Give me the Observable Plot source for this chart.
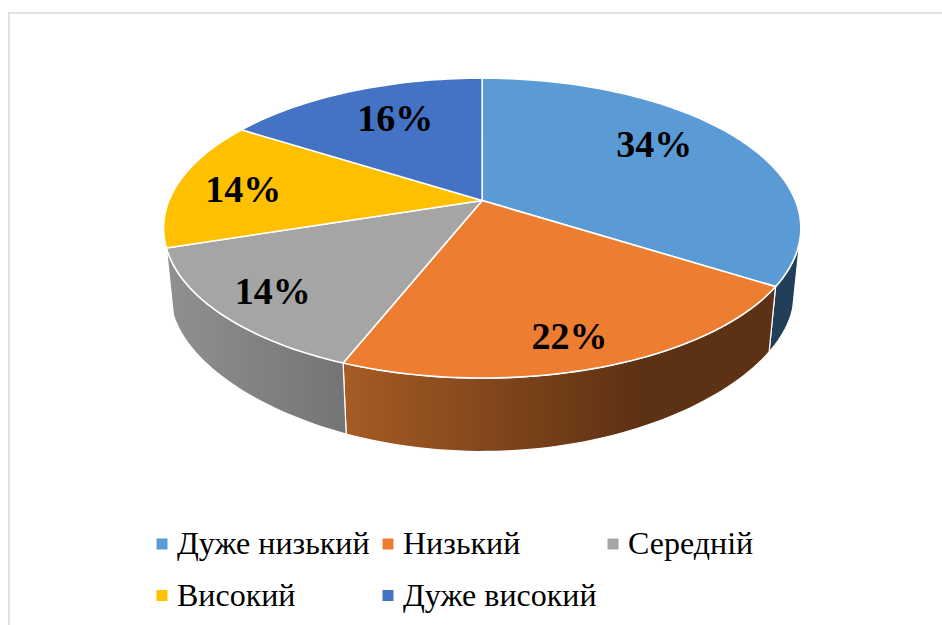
<!DOCTYPE html>
<html lang="uk">
<head>
<meta charset="utf-8">
<script src="https://cdn.jsdelivr.net/npm/d3@7"></script>
<script src="https://cdn.jsdelivr.net/npm/@observablehq/plot@0.6"></script>
<style>html,body{margin:0;padding:0;background:#fff;overflow:hidden}svg{display:block}</style>
</head>
<body>
<div id="chart"></div>
<script>
const categories = ["Дуже низький", "Низький", "Середній", "Високий", "Дуже високий"];
const shares = [34, 22, 14, 14, 16];
const colors = ["#5b9bd5", "#ed7d31", "#a5a5a5", "#ffc000", "#4472c4"];

// Tilted-disc layout, in page pixels
const W = 942, H = 625;
const top3d = {cx: 481.7, cy: 200, fx: 313.2, fy: 144.9, k: 0.184};
const bottom3d = {cy: 271, fy: 126, k: 0.3, xScale: 0.978};
const labelFont = 38, legendFont = 32;
const labelNudge = [[1, -12], [15, 33], [-45, 20], [-37, 1], [3, -6]];
const legendColX = [161.5, 387.5, 612.5];
const legendRowY = [543.5, 595];
const rad = d => d * Math.PI / 180;

function topPt(deg, r = 1) {
  const s = Math.sin(rad(deg)) * r, c = Math.cos(rad(deg)) * r, den = 1 + top3d.k * c;
  return {x: top3d.cx + top3d.fx * s / den, y: top3d.cy - top3d.fy * c / den};
}
function bottomPt(deg) {
  const t = topPt(deg), c = Math.cos(rad(deg));
  return {x: top3d.cx + (t.x - top3d.cx) * bottom3d.xScale, y: bottom3d.cy - bottom3d.fy * c / (1 + bottom3d.k * c)};
}
function sweep(a0, a1, fn) {
  const n = Math.max(2, Math.ceil(Math.abs(a1 - a0) / 1.5));
  return d3.range(n + 1).map(i => fn(a0 + (a1 - a0) * i / n));
}

const cum = d3.cumsum(shares);
const slices = categories.map((name, i) => {
  const a0 = (i ? cum[i - 1] : 0) * 3.6, a1 = cum[i] * 3.6;
  return {name, i, a0, a1, mid: (a0 + a1) / 2, color: colors[i], share: shares[i]};
});

const facePts = slices.flatMap(s => {
  const c = {x: top3d.cx, y: top3d.cy};
  return [c, ...sweep(s.a0, s.a1, topPt), c].map(p => ({...p, name: s.name, color: s.color}));
});

// Visible outer walls
const walls = [
  {slice: 0, from: 105, to: slices[0].a1, fill: "#213f58"},
  {slice: 1, from: slices[1].a0, to: slices[1].a1, fill: "url(#wallOrange)"},
  {slice: 2, from: slices[2].a0, to: slices[2].a1, fill: "url(#wallGrey)"}
];
const wallMarks = walls.map(w => {
  const pts = [...sweep(w.from, w.to, topPt), ...sweep(w.to, w.from, bottomPt)];
  pts.push(pts[0]);
  return Plot.line(pts, {x: "x", y: "y", fill: w.fill, stroke: "#fff", strokeWidth: 1.2, strokeLinejoin: "round"});
});

const labels = slices.map((s, i) => {
  const p = topPt(s.mid, 0.66);
  return {x: p.x + labelNudge[i][0], y: p.y + labelNudge[i][1], text: s.share + "%"};
});
const legend = slices.map((s, i) => ({
  x: legendColX[i % 3], y: legendRowY[Math.floor(i / 3)], name: s.name, color: s.color
}));

const chart = Plot.plot({
  width: W, height: H, margin: 0,
  x: {domain: [0, W], range: [0, W], axis: null},
  y: {domain: [0, H], range: [0, H], axis: null},
  color: {type: "identity"},
  style: {background: "#fff"},
  marks: [
    Plot.ruleY([12.5], {x1: 8, x2: W, stroke: "#d9d9d9", strokeWidth: 1.5}),
    Plot.ruleX([8.5], {y1: 12, y2: H, stroke: "#d9d9d9", strokeWidth: 1.5}),
    ...wallMarks,
    Plot.line(facePts, {x: "x", y: "y", z: "name", fill: "color", stroke: "#fff", strokeWidth: 1.6, strokeLinejoin: "round"}),
    Plot.text(labels, {x: "x", y: "y", text: "text", fontFamily: "Liberation Serif", fontWeight: "bold", fontSize: labelFont, fill: "#000"}),
    Plot.dot(legend, {x: "x", y: "y", fill: "color", symbol: "square", r: 6.2}),
    Plot.text(legend, {x: "x", y: "y", dx: 15, text: "name", textAnchor: "start", fontFamily: "Liberation Serif", fontSize: legendFont, fill: "#000"})
  ]
});

const ns = "http://www.w3.org/2000/svg";
const defs = document.createElementNS(ns, "defs");
[["wallOrange", 346, 640, "#a65b24", "#5d3113"], ["wallGrey", 173, 346, "#8f8f8f", "#747474"]].forEach(([id, x1, x2, c1, c2]) => {
  const g = document.createElementNS(ns, "linearGradient");
  g.setAttribute("id", id);
  g.setAttribute("gradientUnits", "userSpaceOnUse");
  g.setAttribute("x1", x1); g.setAttribute("x2", x2);
  g.setAttribute("y1", 0); g.setAttribute("y2", 0);
  [[0, c1], [1, c2]].forEach(([o, c]) => {
    const st = document.createElementNS(ns, "stop");
    st.setAttribute("offset", o); st.setAttribute("stop-color", c);
    g.appendChild(st);
  });
  defs.appendChild(g);
});
chart.insertBefore(defs, chart.firstChild);
document.getElementById("chart").appendChild(chart);
</script>
</body>
</html>
